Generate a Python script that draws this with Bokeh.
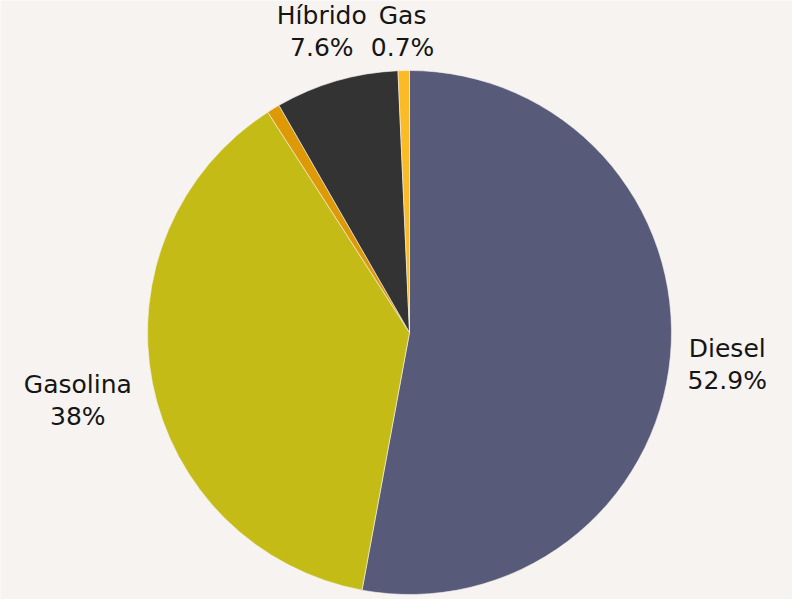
import numpy as np
from bokeh.plotting import figure
from bokeh.models import ColumnDataSource, Range1d
from bokeh.core.properties import value
from bokeh.embed import file_html
from bokeh.resources import INLINE

categories = ["Diesel", "Gasolina", "Otro", "Híbrido", "Gas"]
shares = [52.9, 38.0, 0.8, 7.6, 0.7]
pct_labels = ["52.9%", "38%", "", "7.6%", "0.7%"]
show_label = [True, True, False, True, True]
colors = ["#585a79", "#c4bb17", "#de9a06", "#333333", "#fbbb26"]

BG = "#f6f3f0"
W, H = 792, 599
cx, cy, r = 409, 267, 262
FONT = "DejaVu Sans"
FS = 25
LINE = 32

vals = np.array(shares, dtype=float)
frac = vals / vals.sum()
cum = np.concatenate([[0], np.cumsum(frac)])
start = np.pi / 2 - 2 * np.pi * cum[:-1]
end = np.pi / 2 - 2 * np.pi * cum[1:]

p = figure(width=W, height=H, output_backend="svg", toolbar_location=None,
           x_range=Range1d(0, W), y_range=Range1d(0, H),
           min_border=0, background_fill_color=BG, border_fill_color=BG,
           outline_line_color=None)
p.axis.visible = False
p.grid.visible = False

src = ColumnDataSource(dict(start=start, end=end, color=colors, cat=categories))
p.wedge(x=cx, y=cy, radius=r, start_angle="start", end_angle="end",
        direction="clock", fill_color="color", line_color=BG, line_width=0.6,
        source=src)

mid = 2 * np.pi * (cum[:-1] + cum[1:]) / 2  # clockwise from top
bx, by, names, pcts = [], [], [], []
gap = 14
for i in range(len(categories)):
    if not show_label[i]:
        continue
    s, c = np.sin(mid[i]), np.cos(mid[i])
    nchar = max(len(categories[i]), len(pct_labels[i]))
    w = nchar * 24 * 0.58
    if abs(s) > 0.5:
        x = cx + np.sign(s) * (r + gap + w / 2)
        y = cy + c * 1.34 * r
    else:
        x = cx + s * 1.2 * r
        y = cy + 1.15 * r
    bx.append(x); by.append(y); names.append(categories[i]); pcts.append(pct_labels[i])

by = np.array(by)
ts = ColumnDataSource(dict(x=bx + bx, y=list(by + LINE / 2) + list(by - LINE / 2),
                           t=names + pcts))
p.text(x="x", y="y", text="t", source=ts, text_align="center",
       text_baseline="middle", text_font=value(FONT),
       text_font_size=f"{FS}px", text_color="#151515")

open("out.html", "w").write(file_html(p, INLINE))
